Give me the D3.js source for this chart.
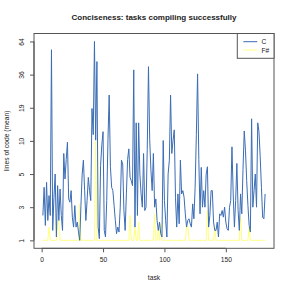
<!DOCTYPE html>
<html><head><meta charset="utf-8">
<script src="https://cdn.jsdelivr.net/npm/d3@7"></script>
<style>body{margin:0;background:#fff}text{font-family:"Liberation Sans",Arial,sans-serif;fill:#222}</style>
</head><body><svg id="c" width="291" height="291"></svg>
<script>
const title = "Conciseness: tasks compiling successfully";
const xLabel = "task";
const yLabel = "lines of code (mean)";
const seriesNames = ["C", "F#"];
const xTicks = [0, 50, 100, 150];
const yTickLabels = [1, 3, 5, 10, 19, 36, 64];
const cValues = [
2.5,4.2,1.9,4.5,2.2,3.7,2.5,57,1.6,3.6,5.0,1.2,4.3,2.2,4.1,2.5,1.6,8.1,4.7,7.2,
9.8,3.5,3.3,4.0,2.4,1.8,3.1,1.8,2.1,1.5,1.0,3.1,5.0,7.1,4.0,2.2,3.4,4.8,4.0,3.4,
18.8,11.7,64,10.2,47,1.8,1.1,6.3,9.4,12.5,1.6,1.2,3.4,10.3,25.5,6.1,4.2,4.0,3.1,2.2,
1.4,1.8,1.5,3.0,7.1,6.5,2.8,1.6,3.8,7.2,8.8,4.8,4.6,4.3,40,1.8,14.9,2.5,14.9,5.0,
3.8,3.0,8.1,2.8,3.0,8.7,42.7,10.3,5.6,4.0,8.1,3.0,3.5,2.2,1.6,2.1,1.4,1.2,10.1,3.4,
2.2,1.2,5.0,7.1,25.5,8.1,10.1,13,3.6,1.8,3.8,2.0,7.1,3.8,4.0,3.6,2.6,1.8,2.2,2.3,
2.0,1.8,3.2,2.3,4.2,11.7,36.6,7.2,2.6,6.0,3.0,4.0,3.0,5.0,6.1,1.8,2.5,4.0,4.0,2.1,
1.6,1.6,2.1,1.2,2.6,2.5,2.8,2.4,3.0,2.1,1.7,1.6,3.0,3.4,9.1,3.8,1.8,3.4,6.6,2.8,
1.6,3.8,2.6,5.7,12.7,8.6,4.6,3.1,1.9,1.5,16,3.0,4.0,5.0,3.0,14.9,12.5,7.6,4.2,2.4,
2.3,3.8];
const fsValues = [
1,1,1,1,1,1.8,1,1,1,1,1,1,1.9,2.2,1,1,1,1,1,1,
1,1,1,1,1,1,1,1,1,1,3.2,1,1,1,1,1,1,1,1,1,
1,1,1,10,1,1,1,1,1,1,1,1,1,1,1,1,1,1,1,1,
1,1,1,1,1,1,1,1,1,1,1,2.5,1,1,1,1.8,1,1,2.1,1,
1,1,1,1,1,1,1,1,1,1,1,2.6,1,1,1.8,1,2.0,1,1,1,
1,1,1,1,1,1,1,1,1,1,1,1,1,1,1,1,1,1.8,1.9,1,
1,1,1,1,1,1,1,1,1,1,1,1,1,1,2.8,1,1,1,1,1,
1.8,1,1,1,1,1,1,1,1,1,1,1,1,1,1,1,1,1,1,1,
1,2.4,1,1,1,1,1,1,1.8,1,1,1,1,1,1,1,1,1,1,1,
1,1];
const tasks = cValues.map((_, i) => i + 1);
const colors = ["#3b6db5", "#ffff80"];

const L = 34, R = 274, T = 33.5, B = 248.3;
const svg = d3.select("#c");
const n = tasks.length;
const pad = 0.04 * (n - 1);
const x = d3.scaleLinear().domain([1 - pad, n + pad]).range([L, R]);
const yIdx = d3.scaleLinear().domain(yTickLabels).range(yTickLabels.map((_, i) => i));
const yT = d3.scaleLinear().domain([-0.24, 6.24]).range([B, T]);
const y = v => yT(yIdx(v));

const line = d3.line().x((d, i) => x(tasks[i])).y(d => y(d));
svg.append("path").datum(fsValues).attr("d", line).attr("fill", "none")
  .attr("stroke", colors[1]).attr("stroke-width", 1);
svg.append("path").datum(cValues).attr("d", line).attr("fill", "none")
  .attr("stroke", colors[0]).attr("stroke-width", 1);

svg.append("rect").attr("x", L).attr("y", T).attr("width", R - L).attr("height", B - T)
  .attr("fill", "none").attr("stroke", "#555").attr("stroke-width", 1);

const xAxis = svg.append("g").attr("transform", `translate(0,${B})`)
  .call(d3.axisBottom(x).tickValues(xTicks).tickSize(4).tickPadding(5));
xAxis.select(".domain").attr("d", `M${x(xTicks[0])},0H${x(xTicks[xTicks.length-1])}`).attr("stroke", "#555");
xAxis.selectAll(".tick line").attr("stroke", "#555");
xAxis.selectAll("text").attr("font-size", 6.7).style("fill", "#222").attr("font-family", "Liberation Sans, Arial, sans-serif");

const yAxis = svg.append("g").attr("transform", `translate(${L},0)`)
  .call(d3.axisLeft(yT).tickValues(yTickLabels.map((_, i) => i)).tickFormat(i => yTickLabels[i]).tickSize(4).tickPadding(0));
yAxis.select(".domain").attr("d", `M0,${yT(0)}V${yT(6)}`).attr("stroke", "#555");
yAxis.selectAll(".tick line").attr("stroke", "#555");
yAxis.selectAll("text").attr("font-size", 6.7).style("fill", "#222")
  .attr("font-family", "Liberation Sans, Arial, sans-serif")
  .attr("x", null).attr("dy", null)
  .attr("transform", "translate(-13,0) rotate(-90)").attr("text-anchor", "middle").attr("dominant-baseline", "central");

svg.append("text").attr("x", (L + R) / 2).attr("y", 20).attr("text-anchor", "middle")
  .attr("font-size", 8).attr("font-weight", "bold").text(title);
svg.append("text").attr("x", (L + R) / 2).attr("y", 279.5).attr("text-anchor", "middle")
  .attr("font-size", 6.7).text(xLabel);
svg.append("text").attr("transform", `translate(9,${(T + B) / 2}) rotate(-90)`).attr("text-anchor", "middle")
  .attr("font-size", 6.7).text(yLabel);

// legend
const lg = svg.append("g");
lg.append("rect").attr("x", 237.3).attr("y", T).attr("width", R - 237.3).attr("height", 24.8)
  .attr("fill", "#fff").attr("stroke", "#555").attr("stroke-width", 1);
seriesNames.forEach((s, i) => {
  const yy = 41.7 + i * 8.3;
  lg.append("line").attr("x1", 243.3).attr("x2", 257.3).attr("y1", yy).attr("y2", yy)
    .attr("stroke", colors[i]).attr("stroke-width", 1);
  lg.append("text").attr("x", 261.5).attr("y", yy).attr("dominant-baseline", "central")
    .attr("font-size", 6.7).text(s);
});
</script></body></html>
